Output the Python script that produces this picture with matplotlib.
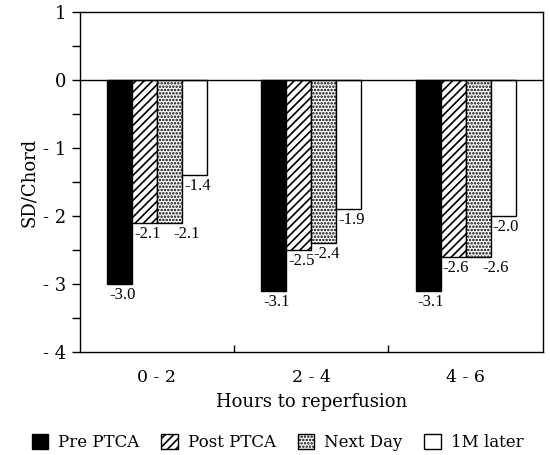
import numpy as np
import matplotlib
matplotlib.use("Agg")
import matplotlib.pyplot as plt
from matplotlib.patches import Patch

plt.rcParams['font.family'] = ['DejaVu Serif']
plt.rcParams['hatch.linewidth'] = 1.2

# данные
groups = ['0 - 2', '2 - 4', '4 - 6']
series = ['Pre PTCA', 'Post PTCA', 'Next Day', '1M later']
pre_ptca = [-3.0, -3.1, -3.1]
post_ptca = [-2.1, -2.5, -2.6]
next_day = [-2.1, -2.4, -2.6]
later_1m = [-1.4, -1.9, -2.0]
y_ticks = [-4, -3, -2, -1, 0, 1]
y_tick_labels = ['- 4', '- 3', '- 2', '- 1', '0', '1']

values = [pre_ptca, post_ptca, next_day, later_1m]
faces = ['black', 'white', 'white', 'white']
hatches = [None, '////', '.....', None]

fig = plt.figure(figsize=(5.5, 4.55), dpi=100)
ax = fig.add_axes([0.145, 0.226, 0.842, 0.748])

x = np.arange(len(groups))
w = 0.162
for i, vals in enumerate(values):
    pos = x - 2 * w + i * w
    ax.bar(pos, vals, width=w, align='edge', color=faces[i], edgecolor='black',
           linewidth=1.0, hatch=hatches[i], zorder=2)
    for j, v in enumerate(vals):
        dx = 1.5
        if i == 2 and v == values[1][j]:
            dx = 12
        ax.annotate(f'{v:.1f}', xy=(pos[j], v), xytext=(dx, -2),
                    textcoords='offset points', ha='left', va='top',
                    fontsize=12, family='Liberation Serif')

ax.axhline(0, color='black', lw=1.0, zorder=3)
ax.set_xlim(-0.5, 2.5)
ax.set_ylim(-4, 1)
ax.set_yticks(y_ticks)
ax.set_yticklabels(y_tick_labels, fontsize=13)
ax.set_yticks(np.arange(-3.5, 1, 1), minor=True)
ax.tick_params(axis='y', which='both', direction='out', length=6, width=1)
ax.set_xticks(x)
ax.set_xticklabels(groups, fontsize=12.5)
ax.set_xticks([0.5, 1.5], minor=True)
ax.tick_params(axis='x', which='major', length=0, pad=12)
ax.tick_params(axis='x', which='minor', direction='in', length=5, width=1)
for s in ax.spines.values():
    s.set_linewidth(1.0)

ax.set_ylabel('SD/Chord', fontsize=13, labelpad=4)
ax.set_xlabel('Hours to reperfusion', fontsize=13, labelpad=5)

handles = [Patch(facecolor=faces[i], edgecolor='black', hatch=hatches[i], label=series[i])
           for i in range(4)]
fig.legend(handles=handles, loc='lower center', bbox_to_anchor=(0.505, -0.025), ncol=4,
           frameon=False, fontsize=12, handlelength=1.0, handleheight=1.0,
           handletextpad=0.6, columnspacing=1.3)

fig.savefig('out.png', dpi=100)
